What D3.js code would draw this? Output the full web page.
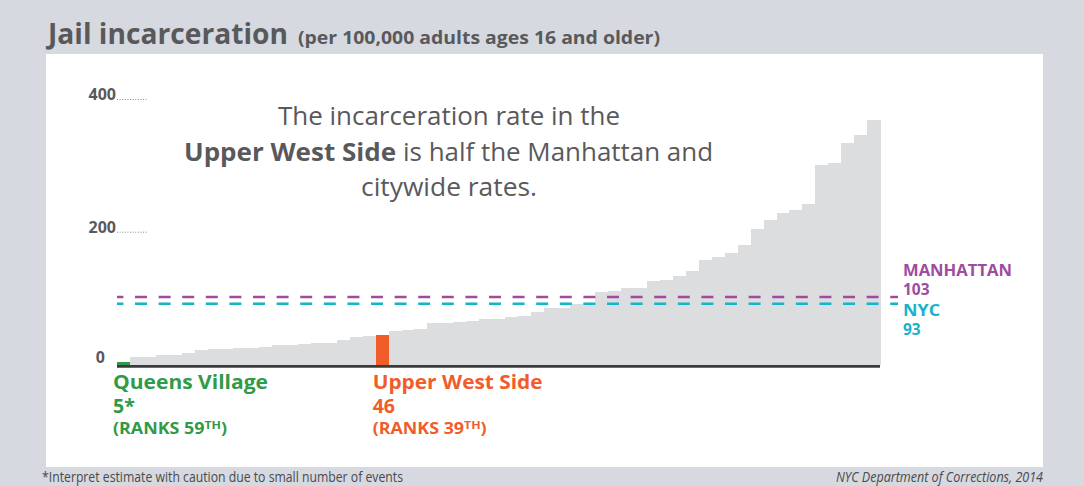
<!DOCTYPE html>
<html><head><meta charset="utf-8">
<script src="https://cdn.jsdelivr.net/npm/d3@7"></script>
<style>
body{margin:0;background:#d6d9df;}
svg{display:block}
text{font-family:"Open Sans","Noto Sans",sans-serif;}
</style>
</head><body>
<svg id="c" width="1084" height="486"></svg>
<script>
// ---- data ----
const ranks = d3.range(59, 0, -1);             // community district rank (59 = lowest rate)
const values = [5,13,13,16,16,19,23,25,25,26,26,28,31,31,33,34,34,38,43,45,46,52,53,55,64,64,65,67,70,70,73,74,80,87,87,92,94,110,112,117,117,127,129,135,142,159,163,169,181,205,219,229,234,243,302,305,335,347,370];
const yTickValues = [0, 200, 400];
const yTickLabels = ["0", "200", "400"];
const refNames = ["MANHATTAN", "NYC"];
const refValues = [103, 93];
const refColors = ["#a04b9e", "#16b4cb"];
const hiNames = ["Queens Village", "Upper West Side"];
const hiRanks = [59, 39];
const hiLabels = ["5*", "46"];
const hiRankText = ["59", "39"];
const hiColors = ["#2f9a48", "#f15d2a"];

const svg = d3.select("#c");
const grey = "#59595c";

// panel
svg.append("rect").attr("x",46).attr("y",54).attr("width",997).attr("height",413).attr("fill","#fff");

// title
svg.append("text").attr("x",48).attr("y",44).attr("font-size",29).attr("font-weight",700)
  .attr("fill",grey).attr("textLength",240).attr("lengthAdjust","spacingAndGlyphs").text("Jail incarceration");
svg.append("text").attr("x",298).attr("y",44).attr("font-size",17).attr("font-weight",700)
  .attr("fill",grey).attr("textLength",362).attr("lengthAdjust","spacingAndGlyphs").text("(per 100,000 adults ages 16 and older)");

// scales
const x = d3.scaleBand().domain(ranks).range([117, 880]).padding(0);
const y = d3.scaleLinear().domain([0, 400]).range([365.4, 100]);

// bars
svg.append("g").attr("shape-rendering","crispEdges").selectAll("rect").data(values).join("rect")
  .attr("x",(d,i)=>x(ranks[i]))
  .attr("width",x.bandwidth()+0.6)
  .attr("y",d=>y(d))
  .attr("height",d=>y(0)-y(d))
  .attr("fill",(d,i)=>{const k=hiRanks.indexOf(ranks[i]); return k>=0?hiColors[k]:"#dcdddf";});

// baseline
svg.append("line").attr("x1",117).attr("x2",880).attr("y1",y(0)+1).attr("y2",y(0)+1)
  .attr("stroke","#3b3a3c").attr("stroke-width",2.6);

// y tick labels and leaders
yTickValues.forEach((v,i)=>{
  const isZero = v===0;
  svg.append("text").attr("x", isZero?105:116).attr("y", y(v)+ (isZero?-2:0))
    .attr("text-anchor","end").attr("font-size",16).attr("font-weight",700).attr("fill",grey)
    .text(yTickLabels[i]);
  if(!isZero){
    svg.append("line").attr("x1",117).attr("x2",148).attr("y1",y(v)-0.5).attr("y2",y(v)-0.5)
      .attr("stroke","#8a8a8c").attr("stroke-width",1).attr("stroke-dasharray","1,1.6");
  }
});

// reference lines
refValues.forEach((v,i)=>{
  svg.append("line").attr("x1",117).attr("x2",898).attr("y1",y(v)).attr("y2",y(v))
    .attr("stroke",refColors[i]).attr("stroke-width",2.6)
    .attr("stroke-dasharray","12 11.6").attr("stroke-dashoffset",5.6);
});
const refLabelY = [[276,295],[316,335]];
refNames.forEach((n,i)=>{
  svg.append("text").attr("x",903).attr("y",refLabelY[i][0]).attr("font-size",15.5).attr("font-weight",700)
    .attr("fill",refColors[i]).text(n)
    .attr("textLength", i===0?109:37).attr("lengthAdjust","spacingAndGlyphs");
  svg.append("text").attr("x",903).attr("y",refLabelY[i][1]).attr("font-size",15.5).attr("font-weight",700)
    .attr("fill",refColors[i]).text(refValues[i]);
});

// highlight labels
hiNames.forEach((n,i)=>{
  const lx = x(hiRanks[i]) - (i===0?4:3);
  svg.append("text").attr("x",lx).attr("y",389).attr("font-size",19.5).attr("font-weight",700)
    .attr("fill",hiColors[i]).attr("textLength", i===0?155:170).attr("lengthAdjust","spacingAndGlyphs").text(n);
  svg.append("text").attr("x",lx).attr("y",413).attr("font-size",19.5).attr("font-weight",700)
    .attr("fill",hiColors[i]).text(hiLabels[i]);
  const t = svg.append("text").attr("x",lx).attr("y",434).attr("font-size",16).attr("font-weight",700)
    .attr("fill",hiColors[i]).attr("textLength",114).attr("lengthAdjust","spacingAndGlyphs");
  t.append("tspan").text("(RANKS " + hiRankText[i]);
  t.append("tspan").attr("font-size",11).attr("dy",-5).text("TH");
  t.append("tspan").attr("dy",5).text(")");
});

// annotation
svg.append("text").attr("x",278).attr("y",125).attr("font-size",25).attr("fill",grey)
  .attr("textLength",342).attr("lengthAdjust","spacingAndGlyphs").text("The incarceration rate in the");
svg.append("text").attr("x",184).attr("y",161).attr("font-size",25).attr("font-weight",700).attr("fill",grey)
  .attr("textLength",212).attr("lengthAdjust","spacingAndGlyphs").text("Upper West Side");
svg.append("text").attr("x",403).attr("y",161).attr("font-size",25).attr("fill",grey)
  .attr("textLength",310).attr("lengthAdjust","spacingAndGlyphs").text("is half the Manhattan and");
svg.append("text").attr("x",361).attr("y",196).attr("font-size",25).attr("fill",grey)
  .attr("textLength",176).attr("lengthAdjust","spacingAndGlyphs").text("citywide rates.");

// footer
svg.append("text").attr("x",42).attr("y",482).attr("font-size",14).attr("fill","#4a4a4c")
  .style("font-family",'"Liberation Sans Narrow","Open Sans",sans-serif')
  .attr("textLength",361).attr("lengthAdjust","spacingAndGlyphs")
  .text("*Interpret estimate with caution due to small number of events");
svg.append("text").attr("x",1043).attr("y",482).attr("font-size",14).attr("fill","#4a4a4c")
  .attr("text-anchor","end").attr("font-style","italic")
  .style("font-family",'"Liberation Sans Narrow","Open Sans",sans-serif')
  .attr("textLength",207).attr("lengthAdjust","spacingAndGlyphs")
  .text("NYC Department of Corrections, 2014");
</script>
</body></html>
